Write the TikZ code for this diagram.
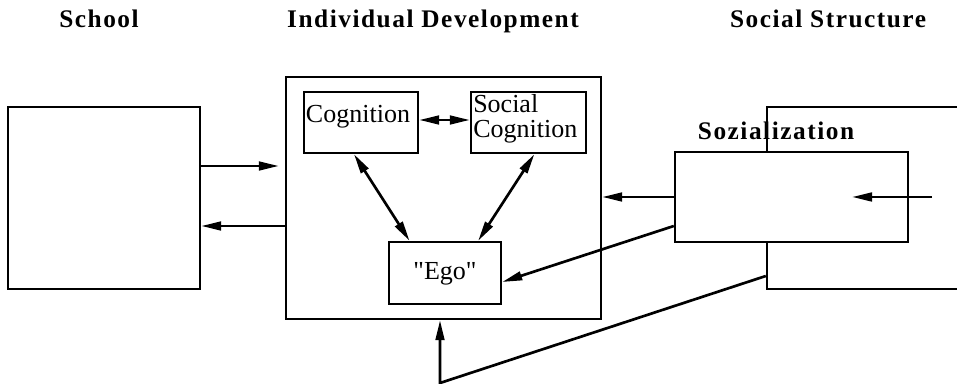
\documentclass[tikz,border=0pt]{standalone}
\usepackage{fontspec}
\setmainfont{Liberation Serif}
\newfontfamily\headfont[LetterSpace=6]{Liberation Serif}
\newfontfamily\bodyfont{Liberation Serif}
\usetikzlibrary{arrows.meta,fit,calc}
\begin{document}
\begin{tikzpicture}[x=0.75pt,y=-0.75pt,
  box/.style={draw, line width=1.8pt, inner sep=0pt},
  tip/.tip={Triangle[length=15pt,width=6.5pt]},
  arr/.style={line width=2pt, -tip},
  darr/.style={line width=2pt, tip-tip},
  head/.style={font=\headfont\bfseries\fontsize{19}{22}\selectfont, anchor=base, inner sep=0pt},
  body/.style={font=\bodyfont\fontsize{19.5}{18.75}\selectfont, inner sep=0pt, anchor=base}]
\useasboundingbox (0,0) rectangle (957,384);
\clip (0,0) rectangle (957,384);

% titles
\node[head] (tschool) at (99,28) {School};
\node[head] (tind) at (433,28) {Individual Development};
\node[head] (tsoc) at (828,28) {Social Structure};

% boxes
\node[box, fit={(8,107) (200,289)}] (school) {};
\node[box, fit={(286,77) (601,319)}] (main) {};
\node[box, fit={(304,92) (418,153)}] (cog) {};
\node[box, fit={(471,92) (586,153)}] (scog) {};
\node[box, fit={(389,242) (501,304)}] (ego) {};
\node[box, fit={(767,107) (995,289)}] (ss) {};
\node[box, fill=white, fit={(675,152) (908,242)}] (soz) {};

% texts
\node[body] (tcog) at (358,123) {Cognition};
\node[body, align=left, anchor=north west] (tscog) at (473,94) {Social\\Cognition};
\node[body] (tego) at (445,280) {"Ego"};
\node[head] (tsoz) at (776,140) {Sozialization};

% helper coordinates
\coordinate (ya) at (0,166);
\coordinate (yb) at (0,226);
\coordinate (yc) at (0,197);
\coordinate (yd) at (0,226);
\coordinate (ye) at (0,282);
\coordinate (yf) at (0,276);
\coordinate (yg) at (0,120);
\coordinate (bend) at (440,383);
\coordinate (sin) at (932,197);
\coordinate (sout) at (852,197);

% connectors
\draw[arr] (school.east |- ya) -- ([xshift=-4.5pt]main.west |- ya);
\draw[arr] (main.west |- yb) -- (school.east |- yb);
\draw[darr] (cog.east |- yg) -- (scog.west |- yg);
\draw[darr] ($(cog.south west)!0.44!(cog.south east)$) -- ($(ego.north west)!0.19!(ego.north east)$);
\draw[darr] ($(scog.south west)!0.55!(scog.south east)$) -- ($(ego.north west)!0.79!(ego.north east)$);
\draw[arr] (soz.west |- yc) -- (main.east |- yc);
\draw[arr] (sin) -- (sout);
\draw[arr] (soz.west |- yd) -- (ego.east |- ye);
\draw[arr] (ss.west |- yf) -- (bend) -- (main.south -| bend);
\end{tikzpicture}
\end{document}
